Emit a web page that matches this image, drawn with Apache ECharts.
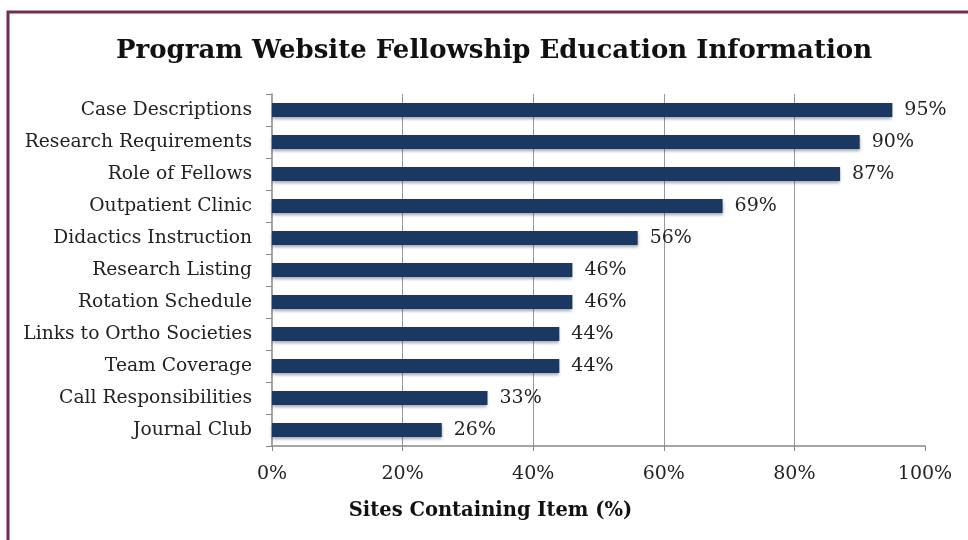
<!DOCTYPE html>
<html>
<head>
<meta charset="utf-8">
<script src="https://cdn.jsdelivr.net/npm/echarts@6/dist/echarts.min.js"></script>
<style>
  html, body { margin: 0; padding: 0; background: #fff; }
  #chart { width: 968px; height: 540px; }
</style>
</head>
<body>
<div id="chart"></div>
<script>
const categories = [
  'Case Descriptions', 'Research Requirements', 'Role of Fellows', 'Outpatient Clinic',
  'Didactics Instruction', 'Research Listing', 'Rotation Schedule', 'Links to Ortho Societies',
  'Team Coverage', 'Call Responsibilities', 'Journal Club'
];
const values = [95, 90, 87, 69, 56, 46, 46, 44, 44, 33, 26];
const xTicks = [0, 20, 40, 60, 80, 100];

const FONT = '"DejaVu Serif", "Liberation Serif", serif';
const chart = echarts.init(document.getElementById('chart'));

chart.setOption({
  backgroundColor: '#fff',
  animation: false,
  title: {
    text: 'Program Website Fellowship Education Information',
    left: 111, top: 33,
    textStyle: { fontFamily: FONT, fontWeight: 'bold', fontSize: 26, color: '#111' }
  },
  graphic: [{
    type: 'rect', shape: { x: 8, y: 12, width: 1000, height: 600 },
    style: { fill: 'none', stroke: '#6e2f4f', lineWidth: 3 }
  }],
  grid: { left: 272, right: 43, top: 94, bottom: 94 },
  xAxis: {
    type: 'value', min: xTicks[0], max: xTicks[xTicks.length - 1], interval: 20,
    name: 'Sites Containing Item (%)', nameLocation: 'middle', nameGap: 55,
    nameTextStyle: { fontFamily: FONT, fontWeight: 'bold', fontSize: 19.5, color: '#111', padding: [0, 216, 0, 0] },
    axisLine: { show: true, lineStyle: { color: '#888', width: 1.5 } },
    axisTick: { show: true, length: 5, lineStyle: { color: '#888' } },
    axisLabel: { formatter: '{value}%', margin: 19, fontFamily: FONT, fontSize: 19, color: '#222' },
    splitLine: { show: true, showMinLine: false, showMaxLine: false, lineStyle: { color: '#999', width: 1 } }
  },
  yAxis: {
    type: 'category', data: categories, inverse: true,
    axisLine: { show: true, lineStyle: { color: '#888', width: 1.5 } },
    axisTick: { show: true, length: 6, alignWithLabel: false, lineStyle: { color: '#888' } },
    axisLabel: { margin: 20, fontFamily: FONT, fontSize: 18.7, color: '#222' }
  },
  series: [{
    type: 'bar', data: values, barWidth: 14,
    itemStyle: {
      color: '#1b3863',
      shadowColor: 'rgba(0,0,0,0.35)', shadowBlur: 3, shadowOffsetY: 2
    },
    label: {
      show: true, position: 'right', distance: 12, formatter: '{c}%',
      fontFamily: FONT, fontSize: 19, color: '#222'
    }
  }]
});
</script>
</body>
</html>
